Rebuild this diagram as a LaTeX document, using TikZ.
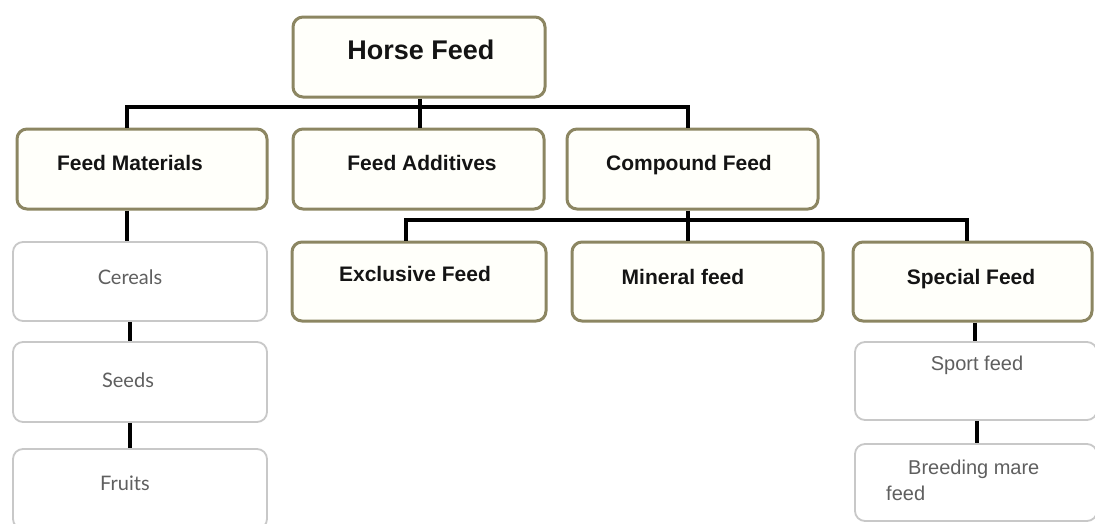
\documentclass[tikz,border=0pt]{standalone}
\usepackage{fontspec}
\setmainfont{Liberation Sans}
\newfontfamily\latofont{Lato}
\usetikzlibrary{calc}
\definecolor{boxolive}{RGB}{140,134,98}
\definecolor{boxgrey}{RGB}{200,200,200}
\definecolor{boxfill}{RGB}{255,255,250}
\definecolor{textblack}{RGB}{20,20,20}
\definecolor{textgrey}{RGB}{95,95,95}
\begin{document}
\begin{tikzpicture}[x=1pt,y=-1pt,
  mainbox/.style={draw=boxolive, line width=3pt, rounded corners=10pt, fill=boxfill, inner sep=0pt},
  subbox/.style={draw=boxgrey, line width=1.8pt, rounded corners=10pt, fill=white, inner sep=0pt},
  btext/.style={font=\bfseries\fontsize{21}{25}\selectfont, text=textblack, inner sep=0pt, anchor=base},
  gtext/.style={font=\fontsize{20}{26}\selectfont, text=textgrey, inner sep=0pt, anchor=base},
  ltext/.style={font=\latofont\fontsize{20}{24}\selectfont, text=textgrey, inner sep=0pt, anchor=base},
  conn/.style={line width=4.5pt, black}]
\useasboundingbox (0,0) rectangle (1095,523);
\fill[white] (0,0) rectangle (1095,523);

% boxes
\node[mainbox, minimum width=252pt, minimum height=80pt] (hf) at (419,57) {};
\node[mainbox, minimum width=250pt, minimum height=80pt] (fm) at (142,169) {};
\node[mainbox, minimum width=251pt, minimum height=80pt] (fa) at (418.5,169) {};
\node[mainbox, minimum width=251pt, minimum height=80pt] (cf) at (692.5,169) {};
\node[mainbox, minimum width=254pt, minimum height=79pt] (ex) at (419,281.5) {};
\node[mainbox, minimum width=251pt, minimum height=79pt] (mi) at (697.5,281.5) {};
\node[mainbox, minimum width=239pt, minimum height=79pt] (sp) at (972.5,281.5) {};
\node[subbox, minimum width=254pt, minimum height=79pt] (ce) at (140,281.5) {};
\node[subbox, minimum width=254pt, minimum height=80pt] (se) at (140,382) {};
\node[subbox, minimum width=254pt, minimum height=80pt] (fr) at (140,489) {};
\node[subbox, minimum width=242pt, minimum height=78pt] (so) at (976,381) {};
\node[subbox, minimum width=242pt, minimum height=77pt] (br) at (976,482.5) {};

% texts
\node[btext, font=\bfseries\fontsize{27}{30}\selectfont] (hft) at (421,59.5) {Horse Feed};
\node[btext] (fmt) at (130,170.5) {Feed Materials};
\node[btext] (fat) at (422,170.5) {Feed Additives};
\node[btext] (cft) at (689,170.5) {Compound Feed};
\node[btext] (ext) at (415,281.5) {Exclusive Feed};
\node[btext] (mit) at (683,284) {Mineral feed};
\node[btext] (spt) at (971,284) {Special Feed};
\node[ltext] (cet) at (130,284) {Cereals};
\node[ltext] (set) at (128,387) {Seeds};
\node[ltext] (frt) at (125,490) {Fruits};
\node[gtext] (sot) at (977,370) {Sport feed};
\node[gtext, anchor=north west, align=left] (brt) at (886,459.5) {\hspace*{22pt}Breeding mare\\feed};

% connectors
\coordinate (bar1) at (0,107);
\coordinate (bar2) at (0,220);
\draw[conn] ([xshift=1pt]hf.south) -- ([xshift=1pt]hf.south |- bar1);
\draw[conn] ([xshift=-15pt]fm.north) -- ([xshift=-15pt]fm.north |- bar1) -| ([xshift=-4.5pt]cf.north);
\draw[conn] ([xshift=1.5pt]fa.north) -- ([xshift=1.5pt]fa.north |- bar1);
\draw[conn] ([xshift=-4.5pt]cf.south) -- ([xshift=-4.5pt]cf.south |- bar2);
\draw[conn] ([xshift=-13pt]ex.north) -- ([xshift=-13pt]ex.north |- bar2) -| ([xshift=-5.5pt]sp.north);
\draw[conn] ([xshift=-9.5pt]mi.north) -- ([xshift=-9.5pt]mi.north |- bar2);
\draw[conn] ([xshift=-15pt]fm.south) -- ([xshift=-15pt]fm.south |- ce.north);
\draw[conn] ([xshift=-10pt]ce.south) -- ([xshift=-10pt]ce.south |- se.north);
\draw[conn] ([xshift=-10pt]se.south) -- ([xshift=-10pt]se.south |- fr.north);
\draw[conn] ([xshift=2.5pt]sp.south) -- ([xshift=2.5pt]sp.south |- so.north);
\draw[conn] ([xshift=1pt]so.south) -- ([xshift=1pt]so.south |- br.north);
\end{tikzpicture}
\end{document}
